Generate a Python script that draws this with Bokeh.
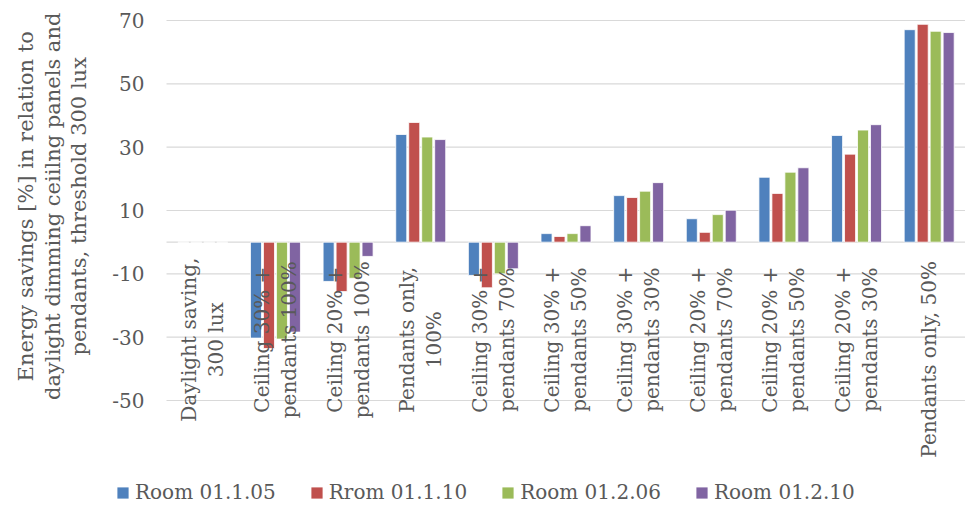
import math
from bokeh.plotting import figure
from bokeh.models import (ColumnDataSource, Range1d, FixedTicker, LabelSet,
                          Legend, LegendItem, PrintfTickFormatter)
from bokeh.core.properties import value
from bokeh.embed import file_html
from bokeh.resources import INLINE

# ---------------- data ----------------
categories = [
    "Daylight saving,\n300 lux",
    "Ceiling 30% +\npendants 100%",
    "Ceiling 20% +\npendants 100%",
    "Pendants only,\n100%",
    "Ceiling 30% +\npendants 70%",
    "Ceiling 30% +\npendants 50%",
    "Ceiling 30% +\npendants 30%",
    "Ceiling 20% +\npendants 70%",
    "Ceiling 20% +\npendants 50%",
    "Ceiling 20% +\npendants 30%",
    "Pendants only, 50%",
]
series_names = ["Room 01.1.05", "Rrom 01.1.10", "Room 01.2.06", "Room 01.2.10"]
room_01_1_05 = [0, -30.3, -12.4, 34.0, -10.5, 2.7, 14.7, 7.4, 20.5, 33.7, 67.1]
rrom_01_1_10 = [0, -33.6, -15.6, 37.8, -14.4, 1.8, 14.1, 3.1, 15.4, 27.8, 68.8]
room_01_2_06 = [0, -30.6, -11.4, 33.2, -10.0, 2.7, 16.1, 8.7, 22.1, 35.4, 66.6]
room_01_2_10 = [0, -28.4, -4.5, 32.4, -8.4, 5.2, 18.8, 10.1, 23.5, 37.1, 66.2]
series_values = [room_01_1_05, rrom_01_1_10, room_01_2_06, room_01_2_10]
y_ticks = [-50, -30, -10, 10, 30, 50, 70]
y_title_lines = ["Energy savings [%] in relation to",
                 "daylight dimming ceiilng panels and",
                 "pendants, threshold 300 lux"]

# ---------------- style ----------------
colors = ["#4F81BD", "#C0504D", "#9BBB59", "#8064A2"]
FONT = "DejaVu Serif"
TXT = "#595959"
GRID = "#D9D9D9"
pitch = 0.1787
bar_w = 0.152
W, H = 965, 505
plot_left_px = 166                 # where the first category starts
plot_top_px = 20                   # where the top gridline sits
n_cat = len(categories)
px_per_cat = (W - plot_left_px) / n_cat
x_lo = -plot_left_px / px_per_cat
px_per_unit = 380 / 120.0          # 20 units between gridlines = 63.3 px
y_hi = y_ticks[-1] + plot_top_px / px_per_unit
y_lo = y_hi - H / px_per_unit
pad = "\u00a0" * 14                # shifts the centred axis title upwards

p = figure(width=W, height=H, output_backend="svg", toolbar_location=None,
           x_range=Range1d(x_lo, n_cat), y_range=Range1d(y_lo, y_hi),
           min_border_left=0, min_border_right=0, min_border_top=0,
           min_border_bottom=0)
p.outline_line_color = None
p.xaxis.visible = False
p.xgrid.visible = False
p.ygrid.visible = False

yax = p.yaxis[0]
yax.fixed_location = 0
yax.ticker = FixedTicker(ticks=y_ticks)
yax.formatter = PrintfTickFormatter(format="%d")
yax.axis_line_color = None
yax.major_tick_line_color = None
yax.minor_tick_line_color = None
yax.major_tick_in = 0
yax.major_tick_out = 0
yax.major_label_standoff = 22
yax.major_label_text_font = FONT
yax.major_label_text_font_size = "20px"
yax.major_label_text_color = TXT
yax.axis_label = "\n".join(pad + s for s in y_title_lines)
yax.axis_label_text_font = FONT
yax.axis_label_text_font_size = "21px"
yax.axis_label_text_font_style = "normal"
yax.axis_label_text_color = TXT
yax.axis_label_text_line_height = 1.1
yax.axis_label_standoff = 18

# horizontal gridlines and zero line, spanning the category area only
grid_y = y_ticks + [0]
p.segment(x0=[0] * len(grid_y), x1=[n_cat] * len(grid_y), y0=grid_y, y1=grid_y,
          line_color=GRID, line_width=1.1)

items = []
for j, (name, vals) in enumerate(zip(series_names, series_values)):
    xs = [i + 0.5 + (j - 1.5) * pitch for i in range(n_cat)]
    src = ColumnDataSource(dict(x=xs, top=vals))
    r = p.vbar(x="x", top="top", bottom=0, width=bar_w, source=src,
               fill_color=colors[j], line_color="white", line_width=0.8)
    items.append(LegendItem(label=name, renderers=[r]))

# category labels (rotated, multi-line, centred)
lx, ly, lt, lo = [], [], [], []
for i, cat in enumerate(categories):
    lines = cat.split("\n")
    n = len(lines)
    yc = -30.8 if n == 2 else -37.0
    for k, line in enumerate(lines):
        lx.append(i + 0.5)
        ly.append(yc)
        lt.append(line)
        lo.append((k - (n - 1) / 2) * 27)
lab_src = ColumnDataSource(dict(x=lx, y=ly, text=lt, xo=lo))
p.add_layout(LabelSet(x="x", y="y", text="text", x_offset="xo", source=lab_src,
                      angle=math.pi / 2, text_align="center", text_baseline="middle",
                      text_font=value(FONT), text_font_size=value("20px"),
                      text_color=value(TXT)))

legend = Legend(items=items, orientation="horizontal", location=(115, 1),
                glyph_width=15, glyph_height=15, label_standoff=5, spacing=33,
                padding=0, margin=0, border_line_color=None,
                background_fill_alpha=0, label_text_font=FONT,
                label_text_font_size="20px", label_text_color=TXT)
p.add_layout(legend)

open("out.html", "w").write(file_html(p, INLINE))
